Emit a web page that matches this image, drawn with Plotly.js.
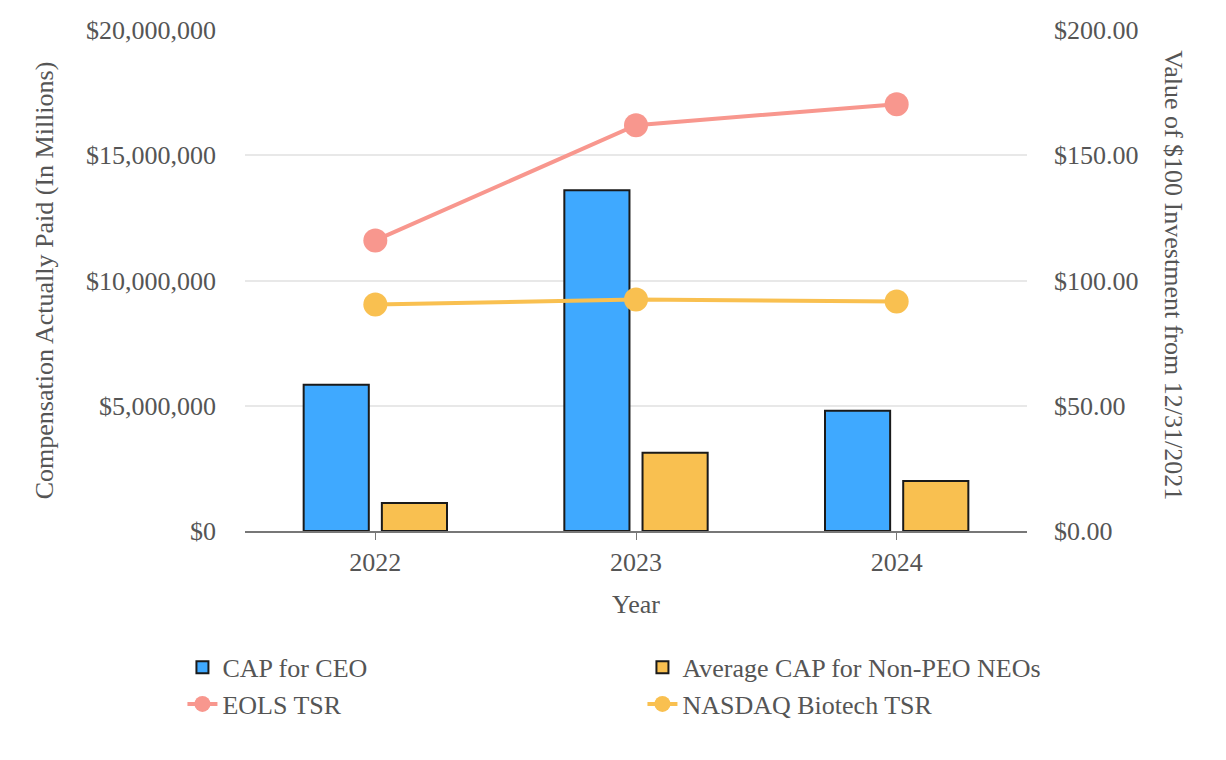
<!DOCTYPE html>
<html><head><meta charset="utf-8">
<script src="https://cdn.plot.ly/plotly-3.0.1.min.js"></script>
<style>html,body{margin:0;padding:0;background:#fff}#c{width:1226px;height:760px}</style>
</head><body><div id="c"></div>
<script>
const years = ['2022', '2023', '2024'];
const capCEO = [5840000, 13600000, 4800000];
const capNEO = [1120000, 3120000, 2000000];
const eolsTSR = [116.0, 162.0, 170.4];
const nasdaqTSR = [90.4, 92.4, 91.6];
const leftTicks = [0, 5000000, 10000000, 15000000, 20000000];
const leftTickText = ['$0', '$5,000,000', '$10,000,000', '$15,000,000', '$20,000,000'];
const rightTicks = [0, 50, 100, 150, 200];
const rightTickText = ['$0.00', '$50.00', '$100.00', '$150.00', '$200.00'];

const font = {family: '"Liberation Serif", "Times New Roman", serif', size: 26, color: '#555'};
const data = [
  {type: 'bar', name: 'CAP for CEO', x: years, y: capCEO, marker: {color: '#3FA9FF', line: {color: '#1a1a1a', width: 2}}},
  {type: 'bar', name: 'Average CAP for Non-PEO NEOs', x: years, y: capNEO, marker: {color: '#F9C050', line: {color: '#1a1a1a', width: 2}}},
  {type: 'scatter', mode: 'lines+markers', name: 'EOLS TSR', x: years, y: eolsTSR, yaxis: 'y2',
   line: {color: '#F8978E', width: 4}, marker: {color: '#F8978E', size: 24}},
  {type: 'scatter', mode: 'lines+markers', name: 'NASDAQ Biotech TSR', x: years, y: nasdaqTSR, yaxis: 'y2',
   line: {color: '#F9C050', width: 4}, marker: {color: '#F9C050', size: 24}}
];
const layout = {
  width: 1226, height: 760,
  margin: {l: 245, r: 199, t: 30, b: 229},
  paper_bgcolor: '#fff', plot_bgcolor: '#fff',
  font: font,
  barmode: 'group', bargap: 0.40, bargroupgap: 0.167,
  showlegend: true,
  legend: {orientation: 'h', x: -0.08, xanchor: 'left', y: -0.225, yanchor: 'top',
           entrywidth: 415, entrywidthmode: 'pixels', font: font, tracegroupgap: 0, itemsizing: 'trace'},
  xaxis: {type: 'category', title: {text: 'Year', font: font, standoff: 19}, tickfont: font,
          showline: true, linecolor: '#777', linewidth: 2, ticks: 'outside', tickcolor: '#777', ticklen: 7,
          ticklabelstandoff: 0, showgrid: false, zeroline: false},
  yaxis: {range: [0, 20000000], tickvals: leftTicks, ticktext: leftTickText, tickfont: font,
          title: {text: 'Compensation Actually Paid (In Millions)', font: font, standoff: 24},
          ticklabelstandoff: 28,
          showgrid: true, gridcolor: '#e8e8e8', gridwidth: 2, zeroline: false, showline: false, ticks: ''},
  yaxis2: {range: [0, 200], tickvals: rightTicks, ticktext: rightTickText, tickfont: font,
           ticklabelstandoff: 26,
           overlaying: 'y', side: 'right', showgrid: false, zeroline: false, showline: false},
  annotations: [{text: 'Value of $100 Investment from 12/31/2021', xref: 'paper', yref: 'paper',
                 x: 1.187, y: 0.51, xanchor: 'center', yanchor: 'middle', textangle: 90, showarrow: false, font: font}]
};
Plotly.newPlot('c', data, layout, {displayModeBar: false, staticPlot: true});
</script></body></html>
